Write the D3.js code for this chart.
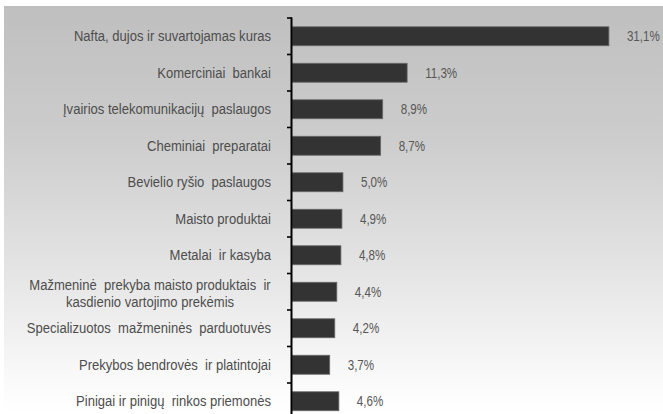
<!DOCTYPE html>
<html><head><meta charset="utf-8">
<script src="https://cdn.jsdelivr.net/npm/d3@7"></script>
<style>
html,body{margin:0;padding:0;background:#fff;}
text{font-family:"Liberation Sans",Arial,sans-serif;}
</style></head>
<body>
<svg id="c" width="663" height="414"></svg>
<script>
const categories = [
  ["Nafta, dujos ir suvartojamas kuras"],
  ["Komerciniai  bankai"],
  ["Įvairios telekomunikacijų  paslaugos"],
  ["Cheminiai  preparatai"],
  ["Bevielio ryšio  paslaugos"],
  ["Maisto produktai"],
  ["Metalai  ir kasyba"],
  ["Mažmeninė  prekyba maisto produktais  ir", "kasdienio vartojimo prekėmis"],
  ["Specializuotos  mažmeninės  parduotuvės"],
  ["Prekybos bendrovės  ir platintojai"],
  ["Pinigai ir pinigų  rinkos priemonės"]
];
const values = [31.1, 11.3, 8.9, 8.7, 5.0, 4.9, 4.8, 4.4, 4.2, 3.7, 4.6];
const valueLabels = ["31,1%", "11,3%", "8,9%", "8,7%", "5,0%", "4,9%", "4,8%", "4,4%", "4,2%", "3,7%", "4,6%"];

const svg = d3.select("#c");
const W = 663, H = 414;
const SXV = 0.8, SXC = 0.9, FS = "14.5px";

const defs = svg.append("defs");
const g = defs.append("linearGradient").attr("id","bg").attr("x1",0).attr("y1",0).attr("x2",0).attr("y2",1);
[["0%","#bfbfbf"],["33%","#cdcdcd"],["67%","#e6e6e6"],["92%","#fafafa"],["100%","#ffffff"]]
  .forEach(([o,c])=>g.append("stop").attr("offset",o).attr("stop-color",c));

svg.append("rect").attr("x",4).attr("y",6).attr("width",W-4).attr("height",H-6).attr("fill","url(#bg)");

const idx = categories.map((d,i)=>i);
const y = d3.scaleBand().domain(idx).range([18, 18 + 36.5*11]).paddingInner(0.48).paddingOuter(0.24);
const x = d3.scaleLinear().domain([0, 35]).range([292, 292 + 35*10.19]);

// bars
svg.append("g").selectAll("rect").data(values).join("rect")
  .attr("x", x(0))
  .attr("y", (d,i)=>y(i))
  .attr("width", d=>x(d)-x(0))
  .attr("height", y.bandwidth())
  .attr("fill","#333333")
  .attr("stroke","#6a6a6a")
  .attr("stroke-width",0.8);

// value labels
svg.append("g").selectAll("text").data(values).join("text")
  .attr("transform",(d,i)=>`translate(${x(d)+18},${y(i)+y.bandwidth()/2}) scale(${SXV},1)`)
  .attr("dy","0.36em")
  .attr("font-size",FS)
  .attr("fill","#575757")
  .text((d,i)=>valueLabels[i]);

// axis with ticks at band boundaries
const axisG = svg.append("g");
const step = y.step();
const tickYs = d3.range(0, 12).map(i=> 18 + step*i);
axisG.selectAll("line.t").data(tickYs).join("line")
  .attr("x1",287).attr("x2",292).attr("y1",d=>d).attr("y2",d=>d)
  .attr("stroke","#000").attr("stroke-width",1.6);
axisG.append("line").attr("x1",291.5).attr("x2",291.5).attr("y1",17.5).attr("y2",H)
  .attr("stroke","#000").attr("stroke-width",2);

// category labels
const lab = svg.append("g").selectAll("g").data(categories).join("g");
lab.each(function(d,i){
  const n = d.length;
  const cy = y(i)+y.bandwidth()/2 + (n>1 ? 1.5 : 0);
  d.forEach((line,k)=>{
    const ax = n>1 ? 150 : 271;
    const ly = cy + (k - (n-1)/2)*17;
    d3.select(this).append("text")
      .attr("transform",`translate(${ax},${ly}) scale(${SXC},1)`)
      .attr("text-anchor", n>1 ? "middle" : "end")
      .attr("dy","0.36em")
      .attr("font-size",FS)
      .attr("fill","#4d4d4d")
      .style("white-space","pre")
      .text(line);
  });
});
</script>
</body></html>
